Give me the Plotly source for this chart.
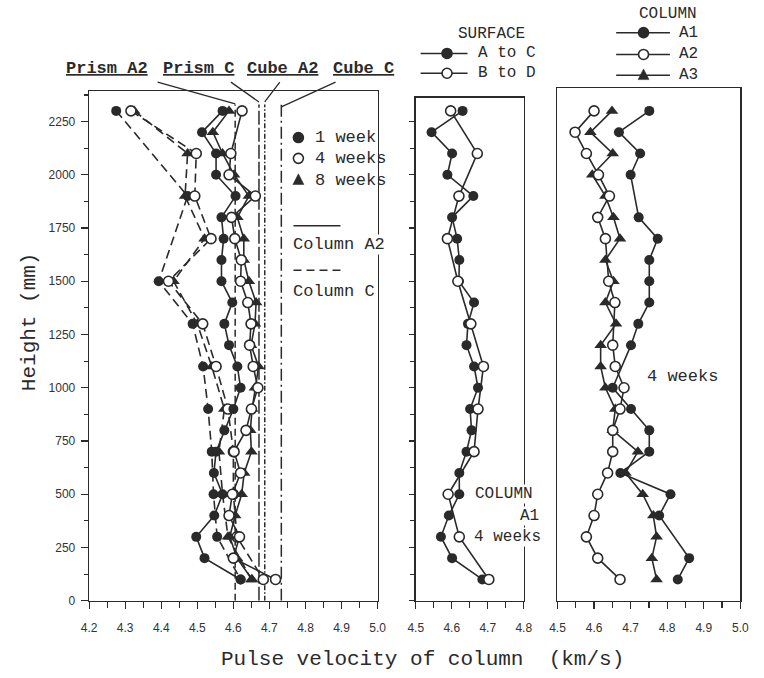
import plotly.graph_objects as go

W, H = 764, 678
INK = '#2a2a2a'
MONO = '"Liberation Mono", "Courier New", monospace'
NARROW = '"Liberation Sans Narrow", "Arial Narrow", "Liberation Sans", Arial, sans-serif'

# ---------------- data ----------------
heights_all = [2300, 2200, 2100, 2000, 1900, 1800, 1700, 1600, 1500, 1400, 1300, 1200,
               1100, 1000, 900, 800, 700, 600, 500, 400, 300, 200, 100]
heights_odd = [2300, 2100, 1900, 1700, 1500, 1300, 1100, 900, 700, 500, 300, 100]

# Left panel - Column A2 (solid lines)
colA2_1wk = [4.570, 4.513, 4.552, 4.552, 4.606, 4.567, 4.573, 4.567, 4.567, 4.597, 4.575, 4.588,
             4.611, 4.620, 4.600, 4.575, 4.552, 4.546, 4.570, 4.547, 4.497, 4.520, 4.620]
colA2_4wk_h = [2300, 2100, 2000, 1900, 1800, 1700, 1600, 1500, 1400, 1300, 1200,
               1100, 1000, 900, 800, 700, 600, 500, 400, 300, 200, 100]
colA2_4wk = [4.624, 4.593, 4.588, 4.661, 4.595, 4.604, 4.622, 4.620, 4.640, 4.649, 4.645,
             4.655, 4.668, 4.650, 4.635, 4.602, 4.620, 4.597, 4.588, 4.617, 4.600, 4.717]
colA2_8wk = [4.588, 4.543, 4.570, 4.602, 4.643, 4.611, 4.629, 4.629, 4.643, 4.663, 4.660, 4.649,
             4.670, 4.660, 4.652, 4.647, 4.650, 4.630, 4.623, 4.605, 4.590, 4.610, 4.652]

# Left panel - Column C (dashed lines)
colC_1wk_h = [2300, 1900, 1500, 1300, 1100, 900, 700, 500, 300, 100]
colC_1wk = [4.275, 4.473, 4.393, 4.487, 4.516, 4.530, 4.540, 4.545, 4.555, 4.620]
colC_4wk = [4.316, 4.497, 4.493, 4.538, 4.420, 4.515, 4.552, 4.585, 4.600, 4.600, 4.610, 4.683]
colC_8wk = [4.325, 4.473, 4.466, 4.520, 4.434, 4.500, 4.540, 4.575, 4.560, 4.570, 4.585, 4.650]

# Reference velocities (prisms / cubes)
ref_names = ['Prism A2', 'Prism C', 'Cube A2', 'Cube C']
ref_values = [4.605, 4.671, 4.687, 4.733]
ref_top = 2330

# Middle panel - column A1, 4 weeks, surfaces
surf_AC = [4.630, 4.544, 4.601, 4.588, 4.660, 4.601, 4.615, 4.621, 4.620, 4.662, 4.645, 4.641,
           4.662, 4.673, 4.651, 4.655, 4.641, 4.621, 4.621, 4.592, 4.570, 4.601, 4.685]
surf_BD = [4.597, 4.671, 4.620, 4.588, 4.617, 4.653, 4.688, 4.673, 4.662, 4.590, 4.621, 4.703]

# Right panel - columns A1, A2, A3 at 4 weeks
A1_h = [2300, 2200, 2100, 2000, 1800, 1700, 1600, 1500, 1400, 1300, 1200,
        1000, 900, 800, 700, 600, 500, 400, 200, 100]
A1 = [4.751, 4.668, 4.726, 4.700, 4.722, 4.774, 4.751, 4.751, 4.751, 4.721, 4.701,
      4.651, 4.701, 4.751, 4.751, 4.672, 4.809, 4.778, 4.860, 4.829]
A2_h = [2300, 2200, 2100, 2000, 1900, 1800, 1700, 1500, 1400, 1200, 1100,
        1000, 900, 800, 700, 600, 500, 400, 300, 200, 100]
A2 = [4.600, 4.548, 4.579, 4.612, 4.642, 4.610, 4.631, 4.640, 4.657, 4.651, 4.658,
      4.682, 4.671, 4.651, 4.651, 4.637, 4.610, 4.600, 4.579, 4.610, 4.671]
A3 = [4.649, 4.590, 4.651, 4.595, 4.631, 4.653, 4.671, 4.631, 4.653, 4.631, 4.660, 4.618,
      4.618, 4.631, 4.658, 4.651, 4.720, 4.686, 4.733, 4.762, 4.771, 4.758, 4.771]

# Tick labels
x_ticks_left = [4.2, 4.3, 4.4, 4.5, 4.6, 4.7, 4.8, 4.9, 5.0]
x_ticks_mid = [4.5, 4.6, 4.7, 4.8]
x_ticks_right = [4.5, 4.6, 4.7, 4.8, 4.9, 5.0]
y_ticks = [0, 250, 500, 750, 1000, 1250, 1500, 1750, 2000, 2250]

# ---------------- styles ----------------
M_FILLED = dict(symbol='circle', size=10, color=INK, line=dict(width=0))
M_OPEN = dict(symbol='circle', size=10, color='white', line=dict(color=INK, width=1.6))
M_TRI = dict(symbol='triangle-up', size=11, color=INK, line=dict(width=0))
LW = 1.6
DASH_C = '9px,5px'

fig = go.Figure()

ref_dash = ['7px,4px', '14px,3px', '5px,2px,1.5px,2px', '12px,4px,2px,4px']
for name, v, d in zip(ref_names, ref_values, ref_dash):
    fig.add_trace(go.Scatter(x=[v, v], y=[0, ref_top], mode='lines', name=name,
                             line=dict(color=INK, width=1.5, dash=d),
                             xaxis='x', yaxis='y', showlegend=False, hoverinfo='skip'))

def series(x, y, marker, dash, xa, ya, name):
    fig.add_trace(go.Scatter(x=x, y=y, mode='lines+markers', name=name,
                             line=dict(color=INK, width=LW, dash=dash),
                             marker=marker, xaxis=xa, yaxis=ya, showlegend=False))

series(colC_1wk, colC_1wk_h, M_FILLED, DASH_C, 'x', 'y', 'Column C 1 week')
series(colC_8wk, heights_odd, M_TRI, DASH_C, 'x', 'y', 'Column C 8 weeks')
series(colC_4wk, heights_odd, M_OPEN, DASH_C, 'x', 'y', 'Column C 4 weeks')
series(colA2_1wk, heights_all, M_FILLED, 'solid', 'x', 'y', 'Column A2 1 week')
series(colA2_8wk, heights_all, M_TRI, 'solid', 'x', 'y', 'Column A2 8 weeks')
series(colA2_4wk, colA2_4wk_h, M_OPEN, 'solid', 'x', 'y', 'Column A2 4 weeks')
series(surf_AC, heights_all, M_FILLED, 'solid', 'x2', 'y2', 'A to C')
series(surf_BD, heights_odd, M_OPEN, 'solid', 'x2', 'y2', 'B to D')
series(A1, A1_h, M_FILLED, 'solid', 'x3', 'y3', 'A1')
series(A3, heights_all, M_TRI, 'solid', 'x3', 'y3', 'A3')
series(A2, A2_h, M_OPEN, 'solid', 'x3', 'y3', 'A2')

# ---------------- layout ----------------
PX_PER_MM = 53.8 / 250.0
Y_BOTTOM = 607

def ydom(top_px):
    return [1 - Y_BOTTOM / H, 1 - top_px / H]

def yrange(top_px):
    return [0, (Y_BOTTOM - top_px) / PX_PER_MM]

tickfont = dict(family=NARROW, size=12, color='#333')

def xax(dom_px, rng, ticks):
    return dict(domain=[dom_px[0] / W, dom_px[1] / W], range=rng,
                tickmode='array', tickvals=ticks, ticktext=[f'{t:.1f}' for t in ticks],
                ticks='outside', ticklen=7, tickwidth=1.2, tickcolor=INK,
                minor=dict(tickmode='linear', tick0=rng[0], dtick=0.05, ticks='outside',
                           ticklen=6, tickwidth=1.2, tickcolor=INK),
                showline=True, linecolor=INK, linewidth=1.5, mirror=True,
                showgrid=False, zeroline=False, tickfont=tickfont, ticklabelstandoff=8,
                fixedrange=True)

LEFT = (83, 378)
MID = (417, 527.5)
RIGHT = (562, 749)
TOP_L, TOP_M, TOP_R = 92, 99, 89

fig.update_layout(
    width=W, height=H, autosize=False,
    margin=dict(l=0, r=0, t=0, b=0),
    paper_bgcolor='white', plot_bgcolor='white',
    showlegend=False,
    xaxis=dict(**xax(LEFT, [4.2, 5.0], x_ticks_left), anchor='y'),
    xaxis2=dict(**xax(MID, [4.5, 4.8], x_ticks_mid), anchor='y2'),
    xaxis3=dict(**xax(RIGHT, [4.5, 5.0], x_ticks_right), anchor='y3'),
    yaxis=dict(domain=ydom(TOP_L), range=yrange(TOP_L), anchor='x',
               tickmode='array', tickvals=y_ticks, ticktext=[str(t) for t in y_ticks],
               ticks='outside', ticklen=7, tickwidth=1.2, tickcolor=INK,
               minor=dict(tickmode='linear', tick0=0, dtick=125, ticks='outside',
                          ticklen=4, tickwidth=1.2, tickcolor=INK),
               showline=True, linecolor=INK, linewidth=1.5, mirror=True,
               showgrid=False, zeroline=False, tickfont=tickfont, ticklabelstandoff=3,
               fixedrange=True),
    yaxis2=dict(domain=ydom(TOP_M), range=yrange(TOP_M), anchor='x2',
                tickmode='array', tickvals=y_ticks, showticklabels=False,
                ticks='outside', ticklen=5, tickwidth=1.2, tickcolor=INK,
                minor=dict(tickmode='linear', tick0=0, dtick=125, ticks='outside',
                           ticklen=4, tickwidth=1.2, tickcolor=INK),
                showline=True, linecolor=INK, linewidth=1.5, mirror=True,
                showgrid=False, zeroline=False, fixedrange=True),
    yaxis3=dict(domain=ydom(TOP_R), range=yrange(TOP_R), anchor='x3',
                showticklabels=False, ticks='',
                showline=True, linecolor=INK, linewidth=1.5, mirror=True,
                showgrid=False, zeroline=False, fixedrange=True),
)

# ---------------- annotations & decorations ----------------
annotations = []

def ann(text, px, py, size=16, xanchor='left', bg=None, angle=0, bold=False):
    a = dict(text=(f'<b>{text}</b>' if bold else text), x=px / W, y=1 - py / H,
             xref='paper', yref='paper', xanchor=xanchor, yanchor='middle',
             showarrow=False, textangle=angle,
             font=dict(family=MONO, size=size, color=INK))
    if bg:
        a['bgcolor'] = bg
        a['borderpad'] = 0
    annotations.append(a)

label_centers = [101.5, 195, 280.5, 363.5]
for name, cx in zip(ref_names, label_centers):
    ann(f'<u>{name}</u>', cx, 69, size=17, xanchor='center', bold=True)

ann('1 week', 312, 139, 17)
ann('4 weeks', 312, 160, 17)
ann('8 weeks', 312, 182, 17)
ann('Column A2', 290, 247, 17, bg='white')
ann('Column C', 290, 295, 17, bg='white')

ann('SURFACE', 495, 34, 16, xanchor='center')
ann('A to C', 479, 54, 16)
ann('B to D', 479, 74, 16)
ann('COLUMN', 477, 499, 16, bg='white')
ann('A1', 544, 521, 16, xanchor='right', bg='white')
ann('4 weeks', 476, 543, 16, bg='white')

ann('COLUMN', 675, 14, 16, xanchor='center')
ann('A1', 684, 33, 16)
ann('A2', 684, 55, 16)
ann('A3', 684, 76, 16)
ann('4 weeks', 690, 380, 17, xanchor='center')

ann('Height (mm)', 22, 325, 21, xanchor='center', angle=-90)
ann('Pulse velocity of column  (km/s)', 424, 666, 21, xanchor='center')

shapes = []

def line_px(x0, y0, x1, y1, dash='solid', width=1.5, color=INK):
    shapes.append(dict(type='line', xref='paper', yref='paper',
                       x0=x0 / W, y0=1 - y0 / H, x1=x1 / W, y1=1 - y1 / H,
                       line=dict(color=color, width=width, dash=dash), layer='above'))

def circle_px(px, py, filled, r=5):
    shapes.append(dict(type='circle', xref='paper', yref='paper',
                       xsizemode='pixel', ysizemode='pixel',
                       xanchor=px / W, yanchor=1 - py / H,
                       x0=-r, x1=r, y0=-r, y1=r,
                       fillcolor=INK if filled else 'white',
                       line=dict(color=INK, width=1.6), layer='above'))

def tri_px(px, py, s=5.5):
    shapes.append(dict(type='path', xref='paper', yref='paper',
                       xsizemode='pixel', ysizemode='pixel',
                       xanchor=px / W, yanchor=1 - py / H,
                       path=f'M {-s},{-s*0.8} L {s},{-s*0.8} L 0,{s*1.15} Z',
                       fillcolor=INK, line=dict(color=INK, width=0.5), layer='above'))

# leader lines from labels to the reference lines
xl0, xl1 = LEFT
def vx(v):
    return xl0 + (v - 4.2) / 0.8 * (xl1 - xl0)
leader_start = [(153, 83), (228, 83), (278, 83), (335, 83)]
leader_end_y = [105, 103, 103, 108]
for (sx, sy), v, ey in zip(leader_start, ref_values, leader_end_y):
    line_px(sx, sy, vx(v), ey, width=1.3)

# left legend symbols
circle_px(297, 139, True)
circle_px(297, 160, False)
tri_px(297, 182)
line_px(292, 228, 340, 228)
line_px(292, 273, 340, 273, dash='8px,5px')

# middle legend samples
line_px(422, 54, 470, 54)
circle_px(449, 54, True)
line_px(422, 74, 470, 74)
circle_px(449, 74, False)

# right legend samples
line_px(622, 33, 677, 33)
circle_px(650, 33, True)
line_px(622, 55, 677, 55)
circle_px(650, 55, False)
line_px(622, 76, 677, 76)
tri_px(650, 76)

fig.update_layout(annotations=annotations, shapes=shapes)

fig.write_html('out.html', config={'displayModeBar': False, 'staticPlot': True},
               post_script="document.body.style.margin='0';document.body.style.overflow='hidden';")
